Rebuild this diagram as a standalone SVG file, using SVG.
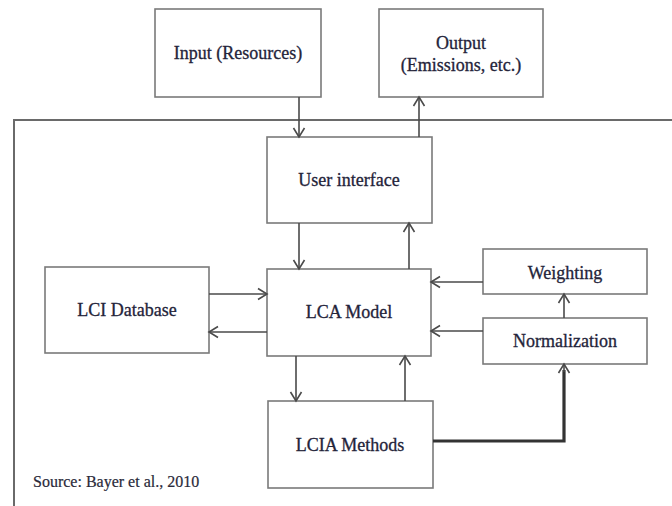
<svg xmlns="http://www.w3.org/2000/svg" width="672" height="506" viewBox="0 0 672 506">
<style>
.box{fill:#fff;stroke:#7a7a7a;stroke-width:1.6}
.lbl{font-family:"Liberation Serif","Times New Roman",serif;font-size:18px;fill:#24243a;stroke:#24243a;stroke-width:0.3;text-anchor:middle}
.src{font-family:"Liberation Serif","Times New Roman",serif;font-size:16px;fill:#2a2a3a;stroke:#2a2a3a;stroke-width:0.2}
.con{fill:none;stroke:#4a4a4a;stroke-width:1.6}
.thick{fill:none;stroke:#333;stroke-width:3.2}
</style>
<defs>
<marker id="arr" markerUnits="userSpaceOnUse" markerWidth="14" markerHeight="14" viewBox="0 0 14 14" refX="12" refY="7" orient="auto">
<path d="M3,1.5 L12,7 L3,12.5" fill="none" stroke="#4a4a4a" stroke-width="1.6"/>
</marker>
</defs>
<g id="frame">
<path d="M672,120 H14 V506" fill="none" stroke="#6a6a6a" stroke-width="2"/>
</g>
<g id="input"><rect class="box" x="155" y="9" width="166" height="88"/><text class="lbl" x="238" y="59">Input (Resources)</text></g>
<g id="output"><rect class="box" x="379" y="9" width="164" height="88"/><text class="lbl" x="461" y="49">Output</text><text class="lbl" x="461" y="71">(Emissions, etc.)</text></g>
<g id="user-interface"><rect class="box" x="267" y="137" width="165" height="86"/><text class="lbl" x="349" y="186">User interface</text></g>
<g id="lca-model"><rect class="box" x="267" y="269" width="164" height="87"/><text class="lbl" x="349" y="318">LCA Model</text></g>
<g id="lci-database"><rect class="box" x="45" y="267" width="164" height="86"/><text class="lbl" x="127" y="316">LCI Database</text></g>
<g id="weighting"><rect class="box" x="483" y="249" width="164" height="45"/><text class="lbl" x="565" y="279">Weighting</text></g>
<g id="normalization"><rect class="box" x="483" y="318" width="164" height="46"/><text class="lbl" x="565" y="347">Normalization</text></g>
<g id="lcia-methods"><rect class="box" x="268" y="401" width="165" height="87"/><text class="lbl" x="350" y="451">LCIA Methods</text></g>
<g id="source"><text class="src" x="33" y="487">Source: Bayer et al., 2010</text></g>
<g id="connectors">
<line class="con" x1="299" y1="97" x2="299" y2="137" marker-end="url(#arr)"/>
<line class="con" x1="419" y1="137" x2="419" y2="97" marker-end="url(#arr)"/>
<line class="con" x1="299" y1="223" x2="299" y2="269" marker-end="url(#arr)"/>
<line class="con" x1="409" y1="269" x2="409" y2="223" marker-end="url(#arr)"/>
<line class="con" x1="209" y1="294" x2="267" y2="294" marker-end="url(#arr)"/>
<line class="con" x1="267" y1="332" x2="209" y2="332" marker-end="url(#arr)"/>
<line class="con" x1="483" y1="282" x2="431" y2="282" marker-end="url(#arr)"/>
<line class="con" x1="483" y1="331" x2="431" y2="331" marker-end="url(#arr)"/>
<line class="con" x1="564" y1="318" x2="564" y2="294" marker-end="url(#arr)"/>
<line class="con" x1="296" y1="356" x2="296" y2="401" marker-end="url(#arr)"/>
<line class="con" x1="405" y1="401" x2="405" y2="356" marker-end="url(#arr)"/>
<path class="thick" d="M433,441 H564 V370"/>
<line class="con" x1="564" y1="372" x2="564" y2="364" marker-end="url(#arr)"/>
</g>
</svg>
